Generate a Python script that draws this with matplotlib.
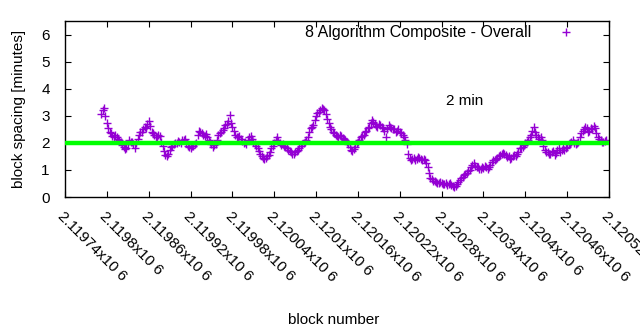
import numpy as np
import matplotlib
matplotlib.use("Agg")
import matplotlib.pyplot as plt

plt.rcParams['font.family'] = ['Liberation Sans', 'DejaVu Sans']

# block spacing in minutes, one reading every 4 blocks starting at block 2119792
first_block = 2119792
block_step = 4
spacing = [
    3.05, 3.28, 2.75, 2.40, 2.25, 2.30, 2.15, 2.05, 1.85, 1.80,
    2.10, 2.05, 1.82, 2.15, 2.40, 2.50, 2.55, 2.80, 2.40, 2.30,
    2.20, 2.25, 1.90, 1.55, 1.60, 1.85, 1.95, 2.00, 2.05, 2.10,
    2.15, 1.90, 1.82, 1.90, 2.00, 2.45, 2.35, 2.25, 2.20, 2.05,
    1.85, 1.95, 2.30, 2.40, 2.55, 2.70, 3.03, 2.60, 2.30, 2.20,
    2.15, 2.00, 1.95, 2.20, 2.15, 1.95, 1.80, 1.60, 1.45, 1.45,
    1.55, 1.80, 2.00, 2.20, 2.00, 1.95, 1.85, 1.75, 1.65, 1.60,
    1.70, 1.80, 1.95, 2.05, 2.20, 2.55, 2.65, 3.00, 3.15, 3.28,
    3.20, 2.90, 2.60, 2.40, 2.30, 2.20, 2.25, 2.15, 2.05, 1.85,
    1.70, 1.85, 2.05, 2.20, 2.30, 2.45, 2.60, 2.85, 2.70, 2.60,
    2.65, 2.55, 2.20, 2.65, 2.55, 2.50, 2.45, 2.40, 2.30, 2.10,
    1.60, 1.35, 1.45, 1.40, 1.45, 1.35, 1.38, 1.10, 0.70, 0.60,
    0.55, 0.50, 0.52, 0.48, 0.45, 0.50, 0.42, 0.40, 0.55, 0.70,
    0.80, 0.90, 1.00, 1.20, 1.15, 1.10, 1.05, 1.08, 1.12, 1.10,
    1.30, 1.38, 1.45, 1.55, 1.62, 1.55, 1.50, 1.45, 1.55, 1.58,
    1.80, 1.85, 2.00, 2.10, 2.30, 2.58, 2.30, 2.15, 2.10, 1.75,
    1.65, 1.60, 1.70, 1.62, 1.80, 1.72, 1.75, 1.85, 2.00, 2.10,
    1.95, 2.05, 2.35, 2.50, 2.55, 2.45, 2.50, 2.55, 2.20, 2.10,
    2.05, 2.10,
]
# readings for the blocks in between (first_block + 2, every 4 blocks)
spacing_mid = [
    3.20, 3.00, 2.55, 2.35, 2.20, 2.22, 2.12, 1.92, 1.78, 1.95,
    2.02, 1.95, 2.00, 2.30, 2.42, 2.58, 2.70, 2.62, 2.35, 2.22,
    2.28, 2.05, 1.70, 1.52, 1.72, 1.90, 1.98, 2.08, 2.00, 2.12,
    2.00, 1.85, 1.88, 1.95, 2.30, 2.40, 2.28, 2.32, 2.10, 1.95,
    1.92, 2.12, 2.38, 2.48, 2.65, 2.80, 2.75, 2.45, 2.22, 2.25,
    2.08, 2.02, 2.10, 2.25, 2.05, 1.88, 1.70, 1.50, 1.40, 1.50,
    1.68, 1.90, 2.12, 2.08, 1.92, 1.90, 1.80, 1.70, 1.58, 1.65,
    1.75, 1.88, 2.00, 2.12, 2.40, 2.60, 2.85, 3.10, 3.22, 3.25,
    3.05, 2.75, 2.50, 2.35, 2.25, 2.28, 2.18, 2.10, 1.95, 1.75,
    1.78, 1.98, 2.12, 2.25, 2.40, 2.55, 2.75, 2.78, 2.62, 2.68,
    2.60, 2.45, 2.50, 2.60, 2.52, 2.40, 2.50, 2.35, 2.20, 1.95,
    1.45, 1.42, 1.38, 1.48, 1.40, 1.42, 1.25, 0.90, 0.65, 0.58,
    0.52, 0.55, 0.47, 0.50, 0.48, 0.45, 0.38, 0.48, 0.62, 0.75,
    0.85, 0.95, 1.10, 1.25, 1.10, 1.02, 1.10, 1.15, 1.05, 1.20,
    1.35, 1.42, 1.50, 1.60, 1.58, 1.48, 1.40, 1.52, 1.50, 1.68,
    1.82, 1.92, 2.05, 2.22, 2.45, 2.40, 2.20, 2.20, 1.90, 1.68,
    1.58, 1.68, 1.55, 1.72, 1.65, 1.80, 1.82, 1.95, 2.05, 2.00,
    2.00, 2.20, 2.45, 2.60, 2.40, 2.55, 2.62, 2.35, 2.15, 2.05,
    2.08,
]
blocks = first_block + block_step * np.arange(len(spacing))
blocks_mid = first_block + 2 + block_step * np.arange(len(spacing_mid))
all_blocks = np.concatenate([blocks, blocks_mid])
all_spacing = np.concatenate([spacing, spacing_mid])

target = 2.0
x_ticks = [2119740, 2119800, 2119860, 2119920, 2119980, 2120040, 2120100,
           2120160, 2120220, 2120280, 2120340, 2120400, 2120460, 2120520]
x_labels = ['2.11974x10 6', '2.1198x10 6', '2.11986x10 6', '2.11992x10 6',
            '2.11998x10 6', '2.12004x10 6', '2.1201x10 6', '2.12016x10 6',
            '2.12022x10 6', '2.12028x10 6', '2.12034x10 6', '2.1204x10 6',
            '2.12046x10 6', '2.12052x10 6']

fig = plt.figure(figsize=(6.4, 3.3), dpi=100)
ax = fig.add_axes([0.1016, 0.403, 0.85, 0.533])

ax.plot(all_blocks, all_spacing, '+', color='#9400D3', markersize=6, mew=1.0,
        label='8 Algorithm Composite - Overall', zorder=2)
ax.plot([x_ticks[0], x_ticks[-1]], [target, target], color='#00FF00',
        lw=3.2, zorder=3)
ax.text(2120286, 3.55, '2 min', fontsize=11, ha='left', va='center')

ax.set_xlim(x_ticks[0], x_ticks[-1])
ax.set_ylim(0, 6.5)
ax.set_yticks(range(0, 7))
ax.set_xticks(x_ticks)
ax.set_xticklabels(x_labels, rotation=-45, ha='left', va='top',
                   rotation_mode='anchor', fontsize=10.5)
ax.tick_params(direction='in', top=True, right=True, length=4, width=0.8,
               labelsize=11)
ax.tick_params(axis='x', pad=9)
ax.tick_params(axis='y', pad=11)
for s in ax.spines.values():
    s.set_linewidth(1.0)

ax.set_xlabel('block number', fontsize=11)
ax.xaxis.set_label_coords(0.493, -0.66)
ax.set_ylabel('block spacing [minutes]', fontsize=11)
ax.yaxis.set_label_coords(-0.071, 0.5)

ax.legend(loc='upper right', markerfirst=False, frameon=False, fontsize=11.5,
          handlelength=1.5, handletextpad=1.4, borderpad=0.25,
          borderaxespad=0.0, bbox_to_anchor=(0.95, 1.0))

fig.savefig('out.png', dpi=100)
